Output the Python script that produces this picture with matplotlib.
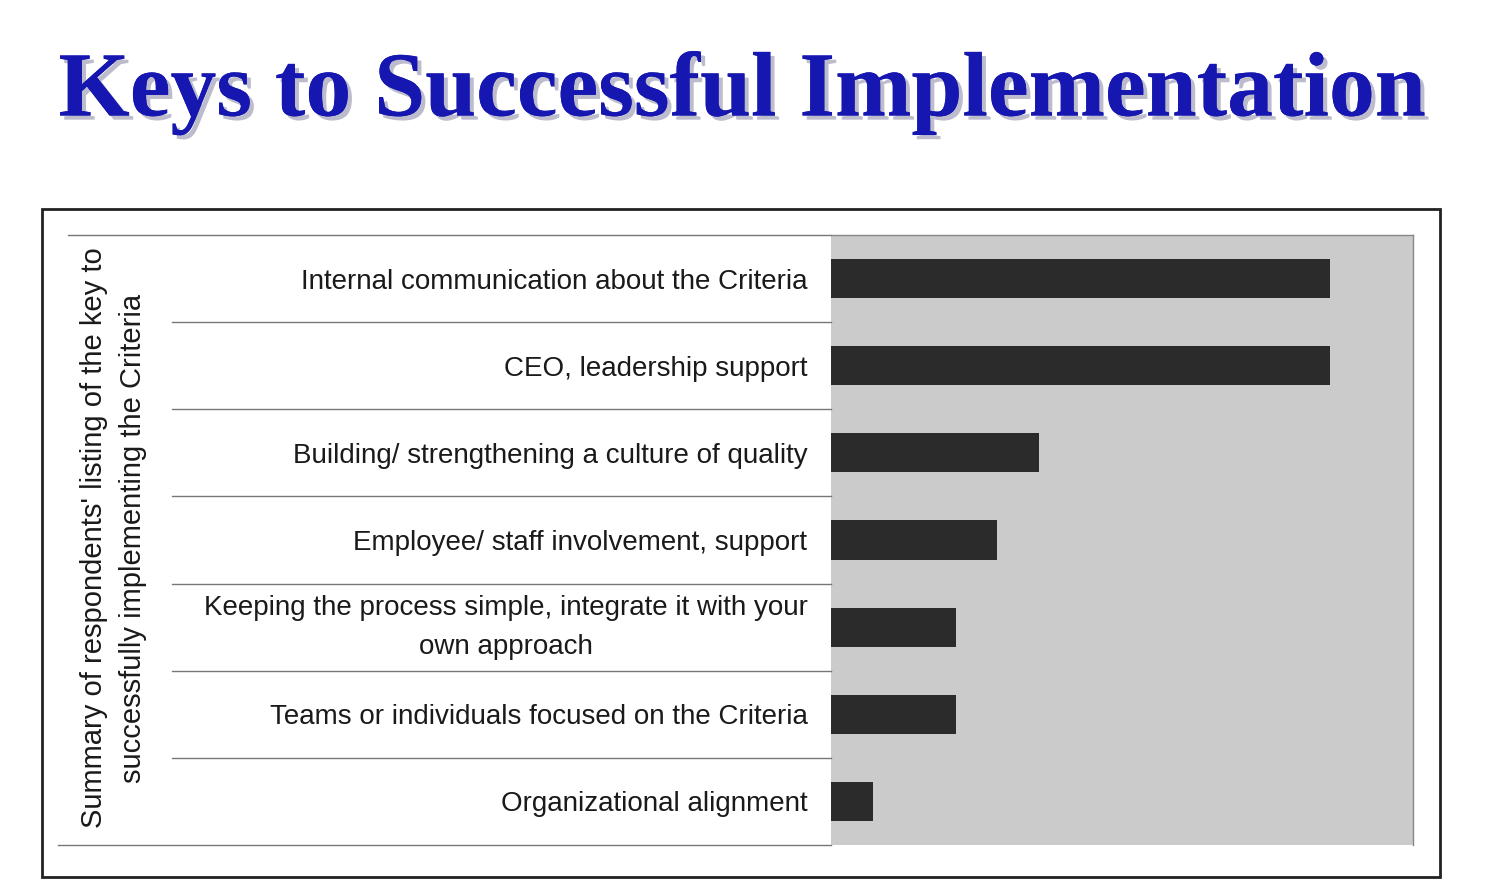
import matplotlib
matplotlib.use("Agg")
import matplotlib.pyplot as plt
import matplotlib.transforms as mtransforms
from matplotlib.patches import Rectangle
import matplotlib.patheffects as pe

categories = [
    "Internal communication about the Criteria",
    "CEO, leadership support",
    "Building/ strengthening a culture of quality",
    "Employee/ staff involvement, support",
    "Keeping the process simple, integrate it with your\nown approach",
    "Teams or individuals focused on the Criteria",
    "Organizational alignment",
]
values = [12, 12, 5, 4, 3, 3, 1]
title = "Keys to Successful Implementation"
ylabel = "Summary of respondents' listing of the key to\nsuccessfully implementing the Criteria"

W, H = 1490, 886
fig = plt.figure(figsize=(W / 100, H / 100), dpi=100)
fig.patch.set_facecolor("white")

def fx(px):
    return px / W

def fy(py):
    return 1 - py / H

# Title with shadow
fig.text(fx(742), fy(93), title, ha="center", va="center",
         fontsize=66, fontweight="bold", family="Liberation Serif",
         color="#1616b0",
         path_effects=[pe.withSimplePatchShadow(offset=(3, -3), shadow_rgbFace="#a0a0b8", alpha=0.7),
                       pe.Normal()])

# Outer frame
fig.patches.append(Rectangle((fx(42), fy(877)), fx(1440) - fx(42), fy(209) - fy(877),
                             transform=fig.transFigure, fill=False,
                             edgecolor="#222222", linewidth=2))

ax = fig.add_axes([fx(831), fy(845), fx(1413) - fx(831), fy(235) - fy(845)])
ax.set_facecolor("#cbcbcb")
y = list(range(len(categories)))
ax.barh(y, values, height=0.45, color="#2b2b2b", zorder=2)
ax.set_xlim(0, 14)
ax.set_ylim(len(categories) - 0.5, -0.5)
ax.set_xticks([])
ax.set_yticks(y)
ax.set_yticklabels(categories, fontsize=20, family="Liberation Sans",
                   color="#1a1a1a", multialignment="center", linespacing=1.65)
ax.tick_params(axis="y", length=0, pad=17)
for s in ["left", "bottom"]:
    ax.spines[s].set_visible(False)
for s in ["top", "right"]:
    ax.spines[s].set_color("#888888")
    ax.spines[s].set_linewidth(1)

# nudge the two-line label upward a bit
for lab in ax.get_yticklabels():
    if "\n" in lab.get_text():
        lab.set_transform(lab.get_transform() +
                          mtransforms.ScaledTranslation(0, 9 / 100, fig.dpi_scale_trans))

# Separator lines
trans = mtransforms.blended_transform_factory(fig.transFigure, ax.transData)
ax.plot([fx(68), fx(831)], [-0.5, -0.5], transform=trans, clip_on=False,
        color="#777777", lw=1)
ax.plot([fx(58), fx(831)], [len(categories) - 0.5] * 2, transform=trans, clip_on=False,
        color="#777777", lw=1)
for i in range(1, len(categories)):
    ax.plot([fx(172), fx(831)], [i - 0.5, i - 0.5], transform=trans, clip_on=False,
            color="#777777", lw=1)

fig.text(fx(114), fy(538), ylabel, rotation=90, ha="center", va="center",
         fontsize=21, family="Liberation Sans", color="#1a1a1a",
         multialignment="center", linespacing=1.5)

fig.savefig("out.png", dpi=100)
